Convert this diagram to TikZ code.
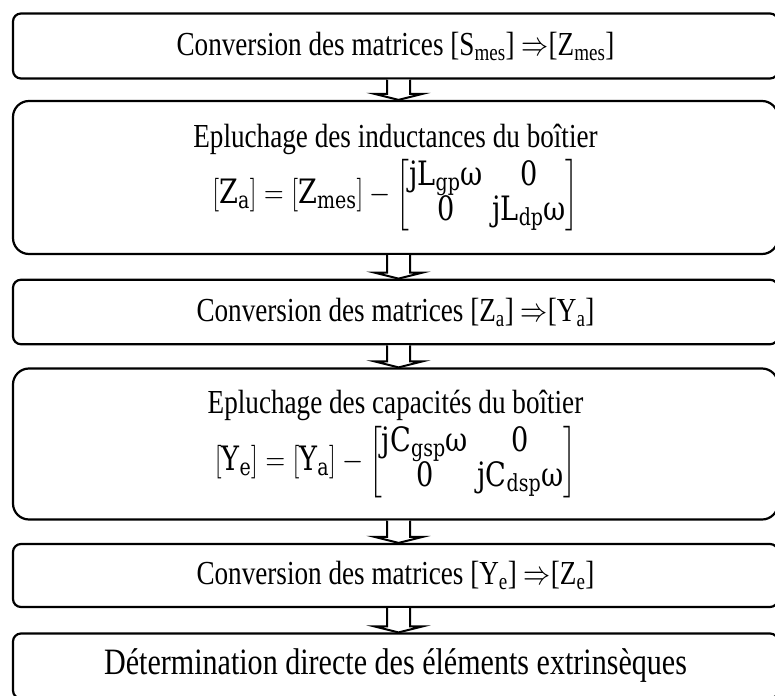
\RequirePackage{fix-cm}
\documentclass[tikz,border=0pt]{standalone}
\usepackage{amsmath}
\usepackage{graphicx}
\usepackage{fontspec}
\setmainfont{Liberation Serif}
\setmathrm{DejaVu Serif}
\newfontfamily\eqfont{DejaVu Serif}
\newcommand\omg{\text{\eqfont ω}}
\usetikzlibrary{calc}
\tikzset{
  boxa/.style={draw, line width=2.2pt, rounded corners=8pt, minimum width=765pt, inner sep=0pt, align=center,
    font=\fontsize{28}{34}\selectfont},
  boxb/.style={boxa, rounded corners=16pt},
  arrowstyle/.style={draw, fill=white, line width=2pt, line join=miter}
}
\newcommand\blockarr[2]{%
  \draw[arrowstyle] ($(#1.south)+(-8.5,0)$) -- ($(#2.north)+(-8.5,-6)$) -- ($(#2.north)+(-21,-6)$)
    -- ($(#2.north)+(3,0)$) -- ($(#2.north)+(27,-6)$) -- ($(#2.north)+(14.5,-6)$) -- ($(#1.south)+(14.5,0)$);}
\newcommand\smat[4]{\left[\renewcommand\arraystretch{0.8}\begin{matrix}#1 & #2\\ #3 & #4\end{matrix}\right]}
\newcommand\tall[1]{\scalebox{0.97}[1.2]{#1}}
\begin{document}
\begin{tikzpicture}[x=1pt,y=-1pt]
\useasboundingbox (0,0) rectangle (775,695);
\node[boxa, minimum height=65pt] (b1) at (395.5,46)
  {\tall{Conversion des matrices [S\textsubscript{mes}] $\Rightarrow$[Z\textsubscript{mes}]}};
\node[boxb, minimum height=153pt] (b2) at (395.5,177.5)
  {\tall{Epluchage des inductances du boîtier}\\[4pt]
   \tall{$\mathrm{[Z_a]} = \mathrm{[Z_{mes}]} - \smat{\mathrm{jL_{gp}}\omg}{\mathrm{0}}{\mathrm{0}}{\mathrm{jL_{dp}}\omg}$}};
\node[boxa, minimum height=64.5pt] (b3) at (395.5,312)
  {\tall{Conversion des matrices [Z\textsubscript{a}] $\Rightarrow$[Y\textsubscript{a}]}};
\node[boxb, minimum height=151pt] (b4) at (395.5,444)
  {\tall{Epluchage des capacités du boîtier}\\[4pt]
   \tall{$\mathrm{[Y_e]} = \mathrm{[Y_a]} - \smat{\mathrm{jC_{gsp}}\omg}{\mathrm{0}}{\mathrm{0}}{\mathrm{jC_{dsp}}\omg}$}};
\node[boxa, minimum height=63pt] (b5) at (395.5,575.5)
  {\tall{Conversion des matrices [Y\textsubscript{e}] $\Rightarrow$[Z\textsubscript{e}]}};
\node[boxa, minimum height=65pt, font=\fontsize{31}{36}\selectfont] (b6) at (395.5,666)
  {\tall{Détermination directe des éléments extrinsèques}};
\blockarr{b1}{b2}
\blockarr{b2}{b3}
\blockarr{b3}{b4}
\blockarr{b4}{b5}
\blockarr{b5}{b6}
\end{tikzpicture}
\end{document}
